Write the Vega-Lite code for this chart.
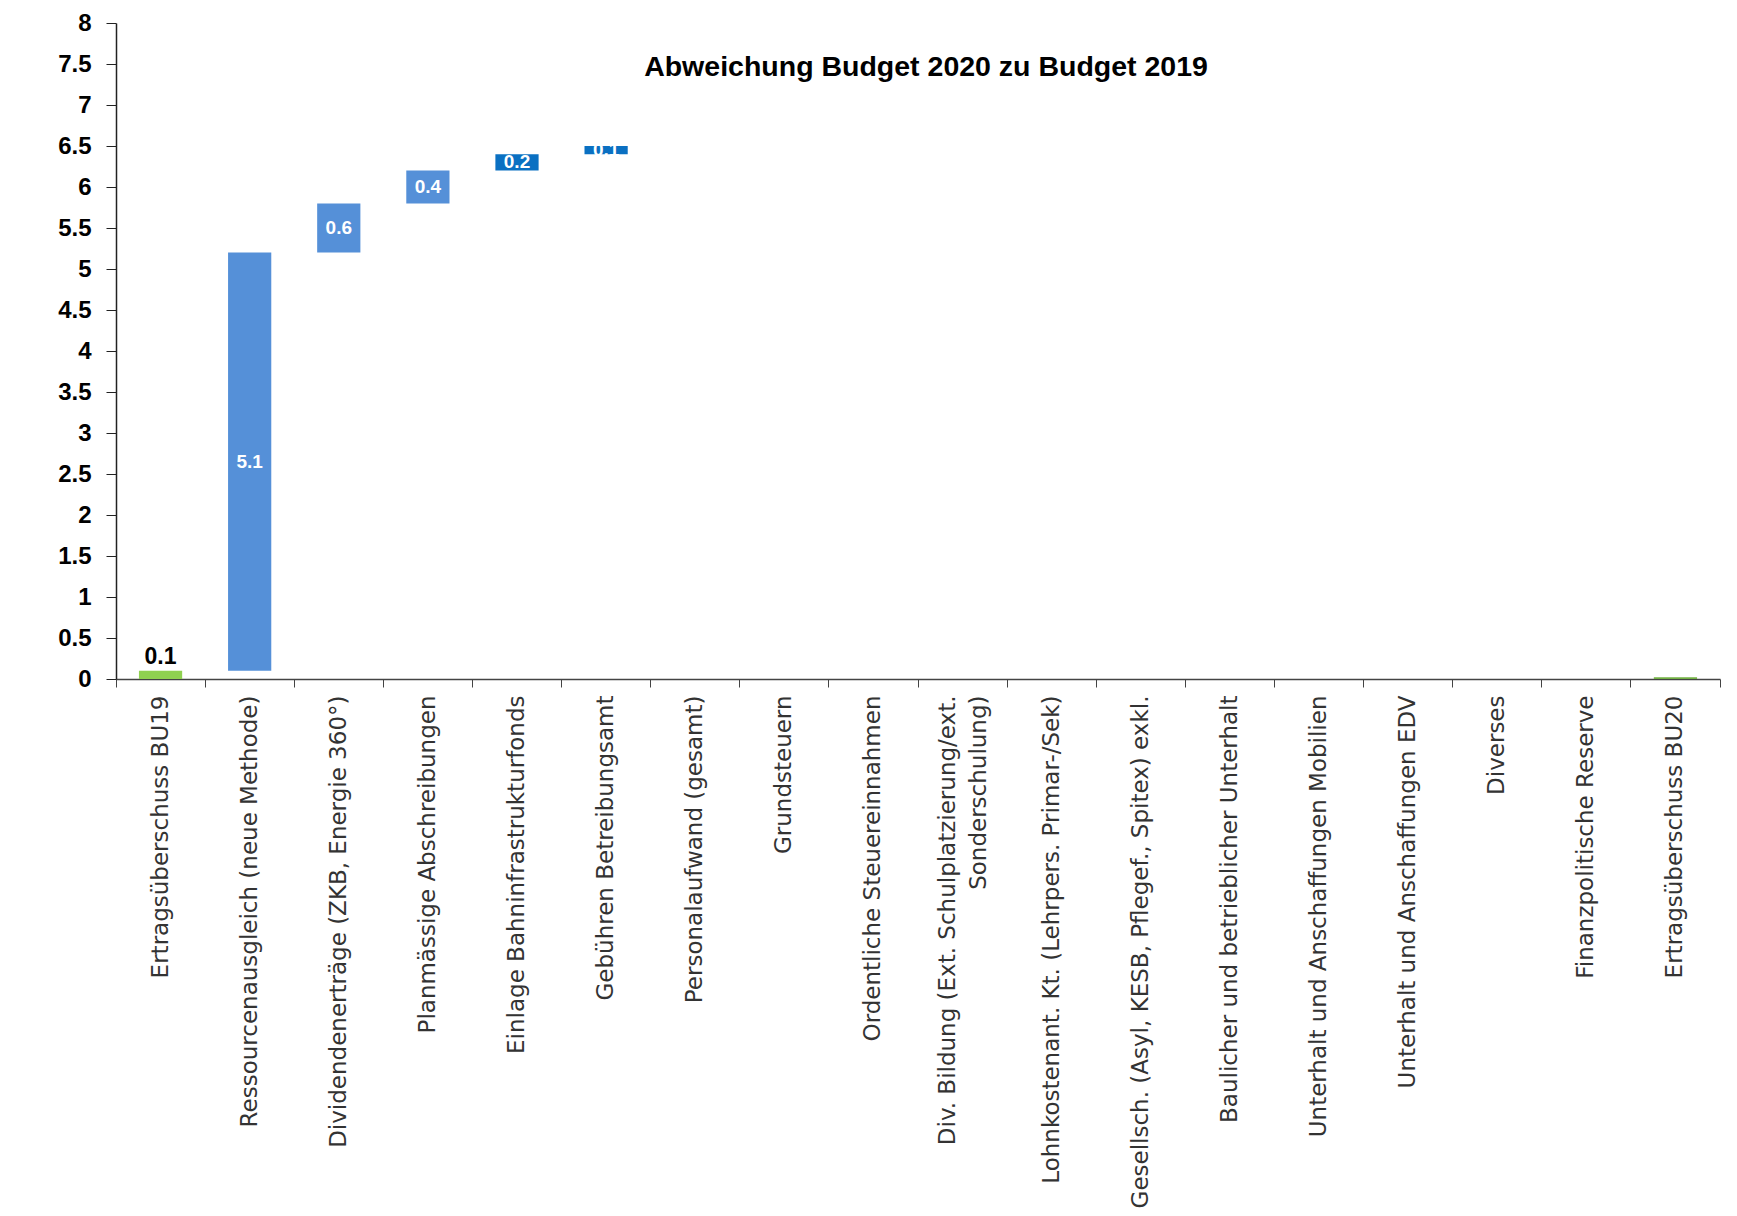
{
  "$schema": "https://vega.github.io/schema/vega-lite/v6.json",
  "width": 1604,
  "height": 656,
  "autosize": {"type": "none"},
  "padding": {"left": 116, "top": 23, "right": 17, "bottom": 537},
  "background": "white",
  "title": {
    "text": "Abweichung Budget 2020 zu Budget 2019",
    "anchor": "middle",
    "offset": -84,
    "dx": 8,
    "baseline": "middle",
    "font": "Liberation Sans",
    "fontSize": 28.5,
    "fontWeight": "bold",
    "color": "#000000"
  },
  "data": {
    "values": [
      {"cat": "Ertragsüberschuss BU19", "start": 0, "end": 0.1, "delta": 0.1, "kind": "total"},
      {"cat": "Ressourcenausgleich (neue Methode)", "start": 0.1, "end": 5.2, "delta": 5.1, "kind": "up"},
      {"cat": "Dividendenerträge (ZKB, Energie 360°)", "start": 5.2, "end": 5.8, "delta": 0.6, "kind": "up"},
      {"cat": "Planmässige Abschreibungen", "start": 5.8, "end": 6.2, "delta": 0.4, "kind": "up"},
      {"cat": "Einlage Bahninfrastrukturfonds", "start": 6.2, "end": 6.4, "delta": 0.2, "kind": "up2"},
      {"cat": "Gebühren Betreibungsamt", "start": 6.4, "end": 6.5, "delta": 0.1, "kind": "up2"},
      {"cat": "Personalaufwand (gesamt)", "start": null, "end": null, "delta": null, "kind": "none"},
      {"cat": "Grundsteuern", "start": null, "end": null, "delta": null, "kind": "none"},
      {"cat": "Ordentliche Steuereinnahmen", "start": null, "end": null, "delta": null, "kind": "none"},
      {"cat": "Div. Bildung (Ext. Schulplatzierung/ext. Sonderschulung)", "start": null, "end": null, "delta": null, "kind": "none"},
      {"cat": "Lohnkostenant. Kt. (Lehrpers. Primar-/Sek)", "start": null, "end": null, "delta": null, "kind": "none"},
      {"cat": "Gesellsch. (Asyl, KESB, Pflegef., Spitex) exkl.", "start": null, "end": null, "delta": null, "kind": "none"},
      {"cat": "Baulicher und betrieblicher Unterhalt", "start": null, "end": null, "delta": null, "kind": "none"},
      {"cat": "Unterhalt und Anschaffungen Mobilien", "start": null, "end": null, "delta": null, "kind": "none"},
      {"cat": "Unterhalt und Anschaffungen EDV", "start": null, "end": null, "delta": null, "kind": "none"},
      {"cat": "Diverses", "start": null, "end": null, "delta": null, "kind": "none"},
      {"cat": "Finanzpolitische Reserve", "start": null, "end": null, "delta": null, "kind": "none"},
      {"cat": "Ertragsüberschuss BU20", "start": 0, "end": 0.02, "delta": 0.02, "kind": "total2"}
    ]
  },
  "encoding": {
    "x": {
      "field": "cat",
      "type": "nominal",
      "sort": null,
      "title": null,
      "scale": {
        "domain": [
          "Ertragsüberschuss BU19",
          "Ressourcenausgleich (neue Methode)",
          "Dividendenerträge (ZKB, Energie 360°)",
          "Planmässige Abschreibungen",
          "Einlage Bahninfrastrukturfonds",
          "Gebühren Betreibungsamt",
          "Personalaufwand (gesamt)",
          "Grundsteuern",
          "Ordentliche Steuereinnahmen",
          "Div. Bildung (Ext. Schulplatzierung/ext. Sonderschulung)",
          "Lohnkostenant. Kt. (Lehrpers. Primar-/Sek)",
          "Gesellsch. (Asyl, KESB, Pflegef., Spitex) exkl.",
          "Baulicher und betrieblicher Unterhalt",
          "Unterhalt und Anschaffungen Mobilien",
          "Unterhalt und Anschaffungen EDV",
          "Diverses",
          "Finanzpolitische Reserve",
          "Ertragsüberschuss BU20"
        ],
        "paddingInner": 0,
        "paddingOuter": 0
      },
      "axis": {
        "labelAngle": -90,
        "labelAlign": "right",
        "labelBaseline": "middle",
        "labelFont": "DejaVu Sans",
        "labelFontSize": 23,
        "labelColor": "#333333",
        "labelPadding": 8,
        "labelLineHeight": 31,
        "labelLimit": 0,
        "labelOffset": {"condition": {"test": "datum.value == 'Div. Bildung (Ext. Schulplatzierung/ext. Sonderschulung)'", "value": -15}, "value": 0},
        "labelExpr": "datum.value == 'Div. Bildung (Ext. Schulplatzierung/ext. Sonderschulung)' ? ['Div. Bildung (Ext. Schulplatzierung/ext.', 'Sonderschulung)'] : datum.label",
        "bandPosition": 1,
        "tickExtra": true,
        "tickSize": 8,
        "tickColor": "#444444",
        "domainColor": "#444444",
        "domainWidth": 1.5,
        "grid": false
      }
    }
  },
  "layer": [
    {
      "transform": [{"filter": "datum.kind != 'none'"}],
      "mark": {"type": "bar", "width": {"band": 0.485}},
      "encoding": {
        "y": {
          "field": "start",
          "type": "quantitative",
          "title": null,
          "scale": {"domain": [0, 8], "nice": false},
          "axis": {
            "values": [0, 0.5, 1, 1.5, 2, 2.5, 3, 3.5, 4, 4.5, 5, 5.5, 6, 6.5, 7, 7.5, 8],
            "format": "~g",
            "labelFont": "Liberation Sans",
            "labelFontSize": 24,
            "labelFontWeight": "bold",
            "labelColor": "#000000",
            "labelPadding": 15,
            "tickSize": 10,
            "tickColor": "#222222",
            "domainColor": "#222222",
            "domainWidth": 1.5,
            "grid": false
          }
        },
        "y2": {"field": "end"},
        "color": {
          "field": "kind",
          "type": "nominal",
          "scale": {
            "domain": ["total", "up", "up2", "total2"],
            "range": ["#8fd150", "#5590d8", "#0a70c2", "#72b043"]
          },
          "legend": null
        }
      }
    },
    {
      "transform": [
        {"filter": "datum.kind == 'up' || datum.kind == 'up2'"},
        {"fold": ["start", "end"], "as": ["k", "v"]}
      ],
      "mark": {
        "type": "text",
        "color": "white",
        "font": "Liberation Sans",
        "fontWeight": "bold",
        "fontSize": 19,
        "baseline": "middle"
      },
      "encoding": {
        "y": {
          "field": "v",
          "aggregate": "mean",
          "type": "quantitative",
          "title": null,
          "scale": {"domain": [0, 8], "nice": false}
        },
        "text": {"field": "delta", "type": "quantitative", "format": ".1f"}
      }
    },
    {
      "transform": [{"filter": "datum.cat == 'Ertragsüberschuss BU19'"}],
      "mark": {
        "type": "text",
        "color": "black",
        "font": "Liberation Sans",
        "fontWeight": "bold",
        "fontSize": 23,
        "baseline": "bottom",
        "dy": -2
      },
      "encoding": {
        "y": {
          "field": "end",
          "type": "quantitative",
          "title": null,
          "scale": {"domain": [0, 8], "nice": false}
        },
        "text": {"field": "delta", "type": "quantitative", "format": ".1f"}
      }
    }
  ],
  "config": {
    "view": {"stroke": null}
  }
}
